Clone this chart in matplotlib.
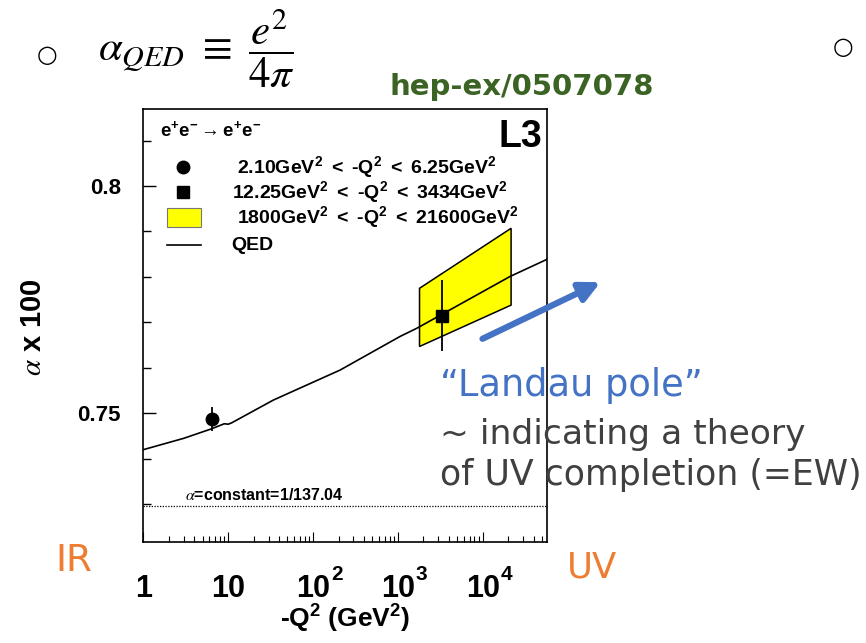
import matplotlib
matplotlib.use("Agg")
import matplotlib.pyplot as plt
from matplotlib.patches import Polygon, Rectangle, FancyArrowPatch
from matplotlib.lines import Line2D
from matplotlib.ticker import LogLocator, MultipleLocator, NullFormatter, FuncFormatter
from matplotlib.transforms import offset_copy

# --- data (L3, hep-ex/0507078) ---
low_q2 = [6.4]          # 2.10 < -Q^2 < 6.25 GeV^2
low_alpha = [0.7488]
low_err = [0.0026]
high_q2 = [3300]        # 12.25 < -Q^2 < 3434 GeV^2
high_alpha = [0.7715]
high_err = [0.0078]
band_q2 = [1800, 1800, 21600, 21600]          # 1800 < -Q^2 < 21600 GeV^2
band_alpha = [0.7647, 0.7775, 0.7907, 0.7738]
qed_q2 = [1, 3, 6.4, 9.0, 10.0, 11.0, 34, 84, 208, 1060, 1670, 21000, 57700]
qed_alpha = [0.7420, 0.7445, 0.7466, 0.7477, 0.7476, 0.7479, 0.7529, 0.7562,
             0.7595, 0.7669, 0.7687, 0.7801, 0.7839]
alpha_const = 100 / 137.04
xtick_vals = [1, 10, 100, 1000, 10000]
xtick_base = ["1", "10", "10", "10", "10"]
xtick_exp = ["", "", "2", "3", "4"]

# keep font.weight at normal: mathtext looks its fonts up with the rc weight
plt.rcParams["font.family"] = ["Liberation Sans", "DejaVu Sans"]
plt.rcParams["mathtext.fontset"] = "custom"
plt.rcParams["mathtext.rm"] = "Liberation Sans:bold"
plt.rcParams["mathtext.bf"] = "Liberation Sans:bold"
plt.rcParams["mathtext.it"] = "Liberation Sans:bold:italic"
B = dict(fontweight="bold")

W, H = 866, 643
fig = plt.figure(figsize=(W / 100, H / 100), dpi=100)


def fx(px):
    return px / W


def fy(py):
    return 1 - py / H


# plot frame in pixel units
X0, X1, Y0, Y1 = 143.3, 547.3, 109, 542
ax = fig.add_axes([fx(X0), fy(Y1), (X1 - X0) / W, (Y1 - Y0) / H])
ax.set_xscale("log")
ax.set_xlim(1, 57700)
ax.set_ylim(0.72169, 0.81694)

# Bhabha band
ax.add_patch(Polygon(list(zip(band_q2, band_alpha)), closed=True,
                     facecolor="#ffff00", edgecolor="black", lw=1.1, zorder=2))
# QED running
ax.plot(qed_q2, qed_alpha, color="black", lw=1.2, zorder=3)
# constant alpha
ax.axhline(alpha_const, color="black", lw=0.9, ls=(0, (1, 1.2)), zorder=1)
ax.text(3.1, alpha_const + 0.0006, r"$\alpha$=constant=1/137.04", fontsize=11.5,
        math_fontfamily="stix", ha="left", va="bottom", **B)
# measurements
ax.errorbar(low_q2, low_alpha, yerr=low_err, fmt="o", color="black", ms=9,
            elinewidth=1.3, capsize=0, zorder=4)
ax.errorbar(high_q2, high_alpha, yerr=high_err, fmt="s", color="black", ms=9,
            elinewidth=1.3, capsize=0, zorder=4)

# axes styling (ROOT-like)
for side in ["left", "bottom", "top", "right"]:
    ax.spines[side].set_linewidth(1.2)
ax.yaxis.set_major_locator(MultipleLocator(0.05))
ax.yaxis.set_minor_locator(MultipleLocator(0.01))
ax.yaxis.set_major_formatter(FuncFormatter(lambda v, p: f"{v:g}"))
ax.xaxis.set_major_locator(LogLocator(base=10))
ax.xaxis.set_minor_locator(LogLocator(base=10, subs=range(2, 10)))
ax.xaxis.set_major_formatter(NullFormatter())
ax.xaxis.set_minor_formatter(NullFormatter())
ax.tick_params(axis="both", which="both", direction="in", top=False, right=False)
ax.tick_params(axis="y", which="major", length=9, width=1, labelsize=16, pad=16)
ax.tick_params(axis="y", which="minor", length=5.5, width=1)
ax.tick_params(axis="x", which="major", length=7, width=0.8)
ax.tick_params(axis="x", which="minor", length=4, width=0.8)
plt.setp(ax.get_yticklabels(), fontweight="bold")

# decade labels with raised exponents
xtr = ax.get_xaxis_transform()
for v, base, ex in zip(xtick_vals, xtick_base, xtick_exp):
    ax.text(v, 0, base, transform=offset_copy(xtr, fig=fig, x=0, y=-55, units="dots"),
            ha="center", va="baseline", fontsize=22, **B)
    if ex:
        ax.text(v, 0, ex, transform=offset_copy(xtr, fig=fig, x=18, y=-38, units="dots"),
                ha="left", va="baseline", fontsize=15, **B)
fig.text(fx(345), fy(628), r"-Q$^{2}$ (GeV$^{2}$)", ha="center", va="baseline",
         fontsize=19, **B)
fig.text(fx(33), fy(327), r"$\alpha$ x 100", rotation=90, ha="center", va="center",
         fontsize=21, math_fontfamily="stix", **B)

# legend block
fig.text(fx(160), fy(136), r"e$^{+}$e$^{-}$$\rightarrow$e$^{+}$e$^{-}$", fontsize=13.5,
         ha="left", va="baseline", **B)
fig.text(fx(542), fy(147), "L3", fontsize=27, ha="right", va="baseline", **B)
fig.add_artist(Line2D([fx(183.3)], [fy(166.7)], marker="o", ms=9, color="black",
                      transform=fig.transFigure))
fig.add_artist(Line2D([fx(183.3)], [fy(191.7)], marker="s", ms=9, color="black",
                      transform=fig.transFigure))
fig.add_artist(Rectangle((fx(166.7), fy(226.7)), (201 - 166.7) / W, 18.4 / H,
                         facecolor="#ffff00", edgecolor="#777777", lw=0.8,
                         transform=fig.transFigure))
fig.add_artist(Line2D([fx(166.7), fx(201)], [fy(245), fy(245)], color="black", lw=1.2,
                      transform=fig.transFigure))
leg_rows = [
    (236.7, 173.5, r"2.10GeV$^{2}$ $<$ -Q$^{2}$ $<$ 6.25GeV$^{2}$"),
    (231.7, 198.3, r"12.25GeV$^{2}$ $<$ -Q$^{2}$ $<$ 3434GeV$^{2}$"),
    (236.7, 223.3, r"1800GeV$^{2}$ $<$ -Q$^{2}$ $<$ 21600GeV$^{2}$"),
    (231.7, 250.0, "QED"),
]
for px, py, s in leg_rows:
    fig.text(fx(px), fy(py), s, fontsize=14, ha="left", va="baseline", **B)

# slide annotations
fig.text(fx(47), fy(55), "○", fontsize=17, ha="center", va="center",
         family="DejaVu Sans")
fig.text(fx(843), fy(47), "○", fontsize=17, ha="center", va="center",
         family="DejaVu Sans")
fig.text(fx(98), fy(48), r"$\alpha_{QED}\ \equiv\ \dfrac{e^2}{4\pi}$", fontsize=31,
         ha="left", va="center", math_fontfamily="stix")
fig.text(fx(390), fy(95), "hep-ex/0507078", fontsize=21, ha="left", va="baseline",
         family="DejaVu Sans", color="#3b6323", **B)
fig.text(fx(55), fy(571), "IR", fontsize=27, ha="left", va="baseline",
         family="DejaVu Sans", color="#ed7d31")
fig.text(fx(567), fy(577), "UV", fontsize=25.5, ha="left", va="baseline",
         family="DejaVu Sans", color="#ed7d31")
fig.text(fx(440), fy(396), "\u201cLandau pole\u201d", fontsize=26.5, ha="left",
         va="baseline", family="DejaVu Sans", color="#4472c4")
fig.text(fx(440), fy(444), "~ indicating a theory", fontsize=24.8, ha="left",
         va="baseline", family="DejaVu Sans", color="#404040")
fig.text(fx(440), fy(485), "of UV completion (=EW)", fontsize=25, ha="left",
         va="baseline", family="DejaVu Sans", color="#404040")
fig.add_artist(FancyArrowPatch((fx(480), fy(340)), (fx(603), fy(281)),
                               transform=fig.transFigure, arrowstyle="-|>",
                               mutation_scale=30, lw=4.5, color="#4472c4"))

fig.savefig("out.png", dpi=100)
